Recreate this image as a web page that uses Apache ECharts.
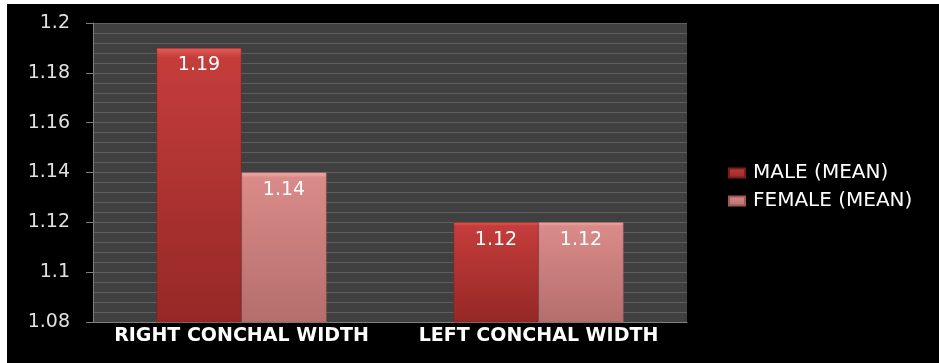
<!DOCTYPE html>
<html>
<head>
<meta charset="utf-8">
<script src="https://cdn.jsdelivr.net/npm/echarts@6/dist/echarts.min.js"></script>
<style>
html,body{margin:0;padding:0;background:#fff;}
#c{width:939px;height:363px;}
</style>
</head>
<body>
<div id="c"></div>
<script>
const categories = ['RIGHT CONCHAL WIDTH', 'LEFT CONCHAL WIDTH'];
const maleMean = [1.19, 1.12];
const femaleMean = [1.14, 1.12];
const seriesNames = ['MALE (MEAN)', 'FEMALE (MEAN)'];

const chart = echarts.init(document.getElementById('c'));
const maleColor = new echarts.graphic.LinearGradient(0, 0, 0, 1, [
  {offset: 0, color: '#e65e58'},
  {offset: 0.035, color: '#c43d3b'},
  {offset: 1, color: '#952826'}
]);
const femaleColor = new echarts.graphic.LinearGradient(0, 0, 0, 1, [
  {offset: 0, color: '#f4b0ad'},
  {offset: 0.035, color: '#da8b89'},
  {offset: 1, color: '#b46e6c'}
]);
const labelCfg = {
  show: true, position: 'insideTop', distance: 8,
  color: '#ffffff', fontFamily: 'DejaVu Sans', fontSize: 19,
  formatter: p => p.value.toFixed(2)
};
chart.setOption({
  backgroundColor: '#ffffff',
  animation: false,
  graphic: [{type: 'rect', z: -100, shape: {x: 7, y: 4, width: 940, height: 370}, style: {fill: '#000000'}}],
  grid: {left: 93, top: 23, right: 252, bottom: 41, show: true, backgroundColor: '#404040', borderWidth: 0},
  legend: {
    orient: 'vertical', left: 728, top: 163, padding: 0, itemWidth: 16, itemHeight: 9, itemGap: 8,
    icon: 'rect',
    textStyle: {color: '#ffffff', fontFamily: 'DejaVu Sans', fontSize: 20, padding: [0, 0, 0, 3]},
    data: seriesNames
  },
  xAxis: {
    type: 'category', data: categories,
    axisLine: {show: true, lineStyle: {color: '#808080'}},
    axisTick: {show: false},
    axisLabel: {interval: 0, color: '#ffffff', fontFamily: 'DejaVu Sans', fontWeight: 'bold', fontSize: 19, margin: 5}
  },
  yAxis: {
    type: 'value', min: 1.08, max: 1.2, interval: 0.02,
    axisLine: {show: true, lineStyle: {color: '#808080'}},
    axisTick: {show: true, length: 7, lineStyle: {color: '#808080'}},
    axisLabel: {color: '#e0e0e0', fontFamily: 'DejaVu Sans', fontSize: 19, margin: 23,
      formatter: v => String(+v.toFixed(2))},
    splitLine: {show: true, lineStyle: {color: '#5e5e5e', width: 1}},
    minorTick: {show: false, splitNumber: 5},
    minorSplitLine: {show: true, lineStyle: {color: '#5e5e5e', width: 1}}
  },
  series: [
    {name: seriesNames[0], type: 'bar', data: maleMean, barWidth: 85, barGap: '0%',
      itemStyle: {color: maleColor, borderColor: '#7a1e1d', borderWidth: 0.5}, label: labelCfg},
    {name: seriesNames[1], type: 'bar', data: femaleMean, barWidth: 85,
      itemStyle: {color: femaleColor, borderColor: '#9e5a58', borderWidth: 0.5}, label: labelCfg}
  ]
});
</script>
</body>
</html>
